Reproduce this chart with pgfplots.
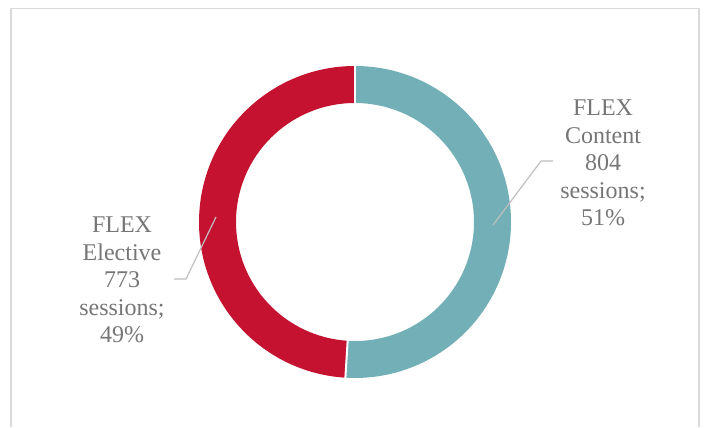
\documentclass[border=0pt]{standalone}
\usepackage{pgfplots}
\usepackage{pgfplotstable}
\pgfplotsset{compat=1.18}
\usepackage{fontspec}
\setmainfont{Liberation Serif}
\definecolor{flexteal}{HTML}{72AFB6}
\definecolor{flexred}{HTML}{C41230}
\definecolor{lbl}{HTML}{767676}
\definecolor{lead}{HTML}{BFBFBF}
\definecolor{frame}{HTML}{D9D9D9}
\pgfplotstableread{
label value
Content 804
Elective 773
}\flexdata
\begin{document}
\begin{tikzpicture}
\pgfplotstablegetelem{0}{value}\of\flexdata \let\vA\pgfplotsretval
\pgfplotstablegetelem{1}{value}\of\flexdata \let\vB\pgfplotsretval
\pgfmathsetmacro{\fracA}{\vA/(\vA+\vB)}
\pgfmathsetmacro{\angA}{360*\fracA}
\pgfmathsetmacro{\endA}{90-\angA}
\begin{axis}[
  scale only axis, width=706bp, height=427bp,
  xmin=0, xmax=706, ymin=0, ymax=427, y dir=reverse,
  hide axis, clip=false]
\path (axis cs:0,0) rectangle (axis cs:706,427);
\draw[frame, line width=1.5bp] (axis cs:11,427) -- (axis cs:11,8.5) -- (axis cs:699,8.5) -- (axis cs:699,427);
% teal segment
\fill[flexteal] (axis cs:355,222) ++(90:156bp) arc[start angle=90, end angle=\endA, radius=156bp]
  -- ++(\endA+180:37bp) arc[start angle=\endA, end angle=90, radius=119bp] -- cycle;
% red segment
\fill[flexred] (axis cs:355,222) ++(\endA:156bp) arc[start angle=\endA, end angle=-270, radius=156bp]
  -- ++(-90:37bp) arc[start angle=-270, end angle=\endA, radius=119bp] -- cycle;
% separators
\draw[white, line width=2bp] (axis cs:355,222) ++(90:117bp) -- ++(90:41bp);
\draw[white, line width=2bp] (axis cs:355,222) ++(\endA:117bp) -- ++(\endA:41bp);
% leader lines
\draw[lead, line width=1.2bp] (axis cs:493,225) -- (axis cs:541,161) -- (axis cs:553,161);
\draw[lead, line width=1.2bp] (axis cs:216,217) -- (axis cs:186,279) -- (axis cs:174,279);
% labels
\node[lbl, align=center, font=\fontsize{24bp}{27.5bp}\selectfont] at (axis cs:603,163) {FLEX\\Content\\804\\sessions;\\51\%};
\node[lbl, align=center, font=\fontsize{24bp}{27.5bp}\selectfont] at (axis cs:122,280) {FLEX\\Elective\\773\\sessions;\\49\%};
\end{axis}
\end{tikzpicture}
\end{document}
